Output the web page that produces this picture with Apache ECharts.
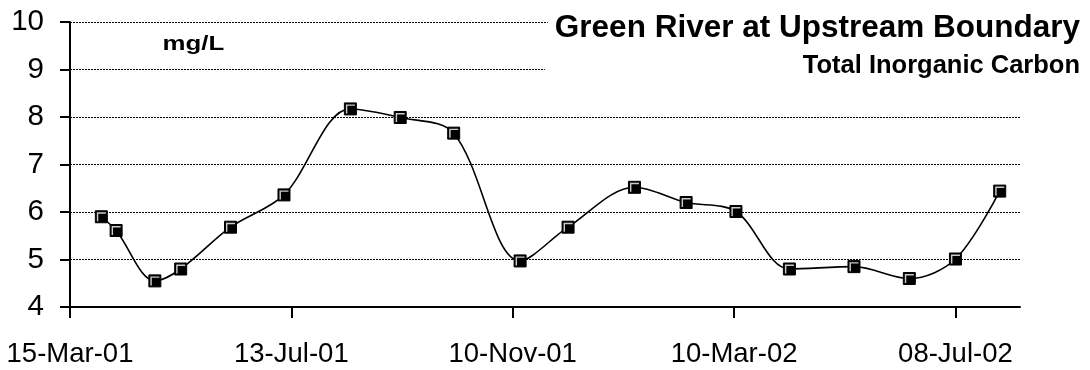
<!DOCTYPE html>
<html>
<head>
<meta charset="UTF-8">
<title>Green River at Upstream Boundary</title>
<script src="https://cdn.jsdelivr.net/npm/echarts@6/dist/echarts.min.js"></script>
<style>
  body { margin: 0; background: #fff; }
  #chart { width: 1090px; height: 370px; }
</style>
</head>
<body>
<div id="chart"></div>
<script>
// sample dates and total inorganic carbon (mg/L)
var sampleDates = ['2001-04-01', '2001-04-09', '2001-04-30', '2001-05-14', '2001-06-10',
  '2001-07-09', '2001-08-14', '2001-09-10', '2001-10-09', '2001-11-14', '2001-12-10',
  '2002-01-15', '2002-02-12', '2002-03-11', '2002-04-09', '2002-05-14', '2002-06-13',
  '2002-07-08', '2002-08-01'];
var tic = [5.9, 5.61, 4.55, 4.8, 5.68, 6.36, 8.17, 7.99, 7.66, 4.97, 5.68,
  6.52, 6.2, 6.01, 4.8, 4.85, 4.6, 5.01, 6.44];
var yTicks = [4, 5, 6, 7, 8, 9, 10];

// x axis counts days from 15-Mar-01, major unit 120 days
var axisStart = Date.UTC(2001, 2, 15);
var DAY = 86400000;
var months = ['Jan','Feb','Mar','Apr','May','Jun','Jul','Aug','Sep','Oct','Nov','Dec'];

function dayOffset(s) {
  return (Date.parse(s + 'T00:00:00Z') - axisStart) / DAY;
}
function fmtDate(days) {
  var d = new Date(axisStart + days * DAY);
  var dd = ('0' + d.getUTCDate()).slice(-2);
  var yy = ('0' + (d.getUTCFullYear() % 100)).slice(-2);
  return dd + '-' + months[d.getUTCMonth()] + '-' + yy;
}

var points = sampleDates.map(function (s, i) { return [dayOffset(s), tic[i]]; });

var chart = echarts.init(document.getElementById('chart'));
chart.setOption({
  animation: false,
  textStyle: { fontFamily: 'Liberation Sans, Arial, sans-serif' },
  grid: { left: 70, right: 70, top: 22, bottom: 63 },
  // white boxes behind the titles hide the gridlines underneath
  title: [{
    text: 'Green River at Upstream Boundary',
    right: 10,
    top: 7,
    padding: [5, 0, 5, 7],
    backgroundColor: '#fff',
    textStyle: { fontSize: 31.5, fontWeight: 'bold', color: '#000', fontFamily: 'Liberation Sans' },
    z: 5
  }, {
    text: 'Total Inorganic Carbon',
    right: 10,
    top: 48,
    padding: [5, 0, 6, 258],
    backgroundColor: '#fff',
    textStyle: { fontSize: 25.5, fontWeight: 'bold', color: '#000', fontFamily: 'Liberation Sans' },
    z: 5
  }],
  graphic: [{
    type: 'text',
    x: 162.5,
    y: 34,
    scaleX: 1.26,
    style: { text: 'mg/L', font: 'bold 20.5px Liberation Sans', fill: '#000', verticalAlign: 'top' }
  }],
  xAxis: {
    type: 'value',
    min: 0,
    max: 515,
    interval: 120,
    axisLine: { lineStyle: { color: '#000', width: 2 } },
    axisTick: { length: 11, lineStyle: { color: '#000', width: 2 } },
    axisLabel: { color: '#000', fontSize: 27.5, margin: 33, formatter: fmtDate, showMaxLabel: false },
    splitLine: { show: false }
  },
  yAxis: {
    type: 'value',
    min: yTicks[0],
    max: yTicks[yTicks.length - 1],
    interval: 1,
    axisLine: { show: true, lineStyle: { color: '#000', width: 2 } },
    axisTick: { show: true, length: 10, lineStyle: { color: '#000', width: 2 } },
    axisLabel: { color: '#000', fontSize: 29.5, margin: 26 },
    splitLine: { show: true, lineStyle: { color: '#000', type: [2, 1], width: 1 } }
  },
  series: [{
    type: 'line',
    data: points,
    smooth: 0.33,
    symbol: 'rect',
    symbolSize: 12,
    lineStyle: { color: '#000', width: 1.6 },
    itemStyle: { color: '#000', borderColor: '#000', borderWidth: 1 },
    z: 2
  }, {
    type: 'scatter',
    data: points,
    symbol: 'path://M0,0H10V1.6H1.6V10H0Z',
    symbolSize: 9,
    itemStyle: { color: '#fff' },
    silent: true,
    z: 3
  }]
});
</script>
</body>
</html>
